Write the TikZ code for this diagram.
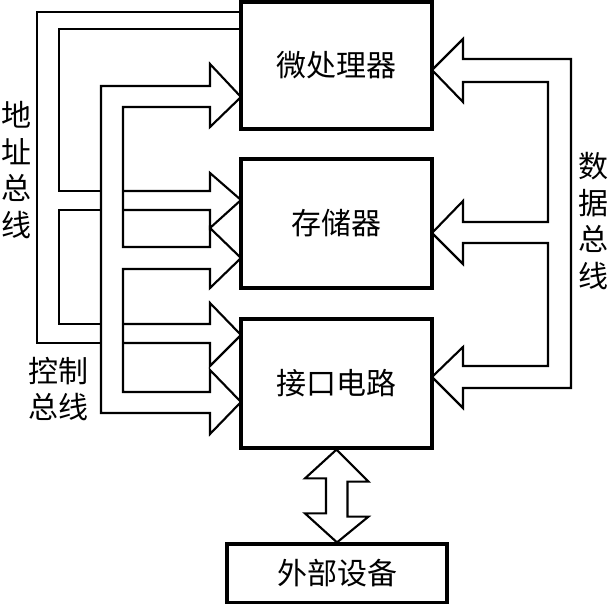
\documentclass[tikz,border=0pt]{standalone}
\usepackage{fontspec}
\newfontfamily\cjk{Noto Sans CJK SC}
\tikzset{
  blk/.style={draw, line width=2.4pt, inner sep=0pt, font=\cjk\fontsize{22.5}{26}\selectfont},
  bus/.style={line width=1.6pt, line join=miter},
  lbl/.style={align=center, inner sep=0pt, font=\cjk\fontsize{22.5}{27.5}\selectfont}
}
\begin{document}
\begin{tikzpicture}[x=0.75pt, y=-0.75pt]
  \useasboundingbox (0,0) rectangle (608,604);
  % the four blocks
  \node[blk, minimum width=143.25pt, minimum height=95.25pt] (mpu) at (336.5,65.5) {微处理器};
  \node[blk, minimum width=143.25pt, minimum height=96.75pt] (mem) at (336.5,223.5) {存储器};
  \node[blk, minimum width=143.25pt, minimum height=96.75pt] (io) at (336.5,383.5) {接口电路};
  \node[blk, minimum width=165pt, minimum height=44.25pt] (ext) at (337,573.5) {外部设备};
  % address bus, leaves the microprocessor, passes under the control bus
  \draw[bus] (241,12) -- (37,12) -- (37,343) -- (101,343);
  \draw[bus] (123,343) -- (210,343) -- (210,366) -- (241,335) -- (210,303) -- (210,324) -- (123,324);
  \draw[bus] (101,324) -- (59,324) -- (59,210) -- (101,210);
  \draw[bus] (123,210) -- (210,210) -- (210,228) -- (241,200) -- (210,173) -- (210,191) -- (123,191);
  \draw[bus] (101,191) -- (59,191) -- (59,29) -- (241,29);
  % control bus
  \draw[bus] (210,86) -- (101,86) -- (101,413) -- (210,413) -- (210,434) -- (241,402) -- (210,370)
    -- (210,392) -- (123,392) -- (123,269) -- (210,269) -- (210,288) -- (241,258) -- (210,228)
    -- (210,247) -- (123,247) -- (123,107) -- (210,107) -- (210,127) -- (241,97) -- (210,64) -- cycle;
  % data bus
  \draw[bus] (463,59) -- (571,59) -- (571,388) -- (463,388) -- (463,408) -- (432,377) -- (463,347)
    -- (463,366) -- (548,366) -- (548,243) -- (463,243) -- (463,264) -- (432,233) -- (463,201)
    -- (463,222) -- (548,222) -- (548,82) -- (463,82) -- (463,102) -- (432,70) -- (463,39) -- cycle;
  % two-way arrow between interface and device
  \draw[bus] (io.south) -- ++(32,32) -- ++(-21,0) -- ++(0,35) -- ++(21,0) -- (ext.north)
    -- ++(-32,-29) -- ++(21,0) -- ++(0,-35) -- ++(-21,0) -- cycle;
  % bus labels
  \node[lbl] (abus) at (17,170) {地\\址\\总\\线};
  \node[lbl] (cbus) at (58,389) {控制\\总线};
  \node[lbl] (dbus) at (593,221) {数\\据\\总\\线};
\end{tikzpicture}
\end{document}
